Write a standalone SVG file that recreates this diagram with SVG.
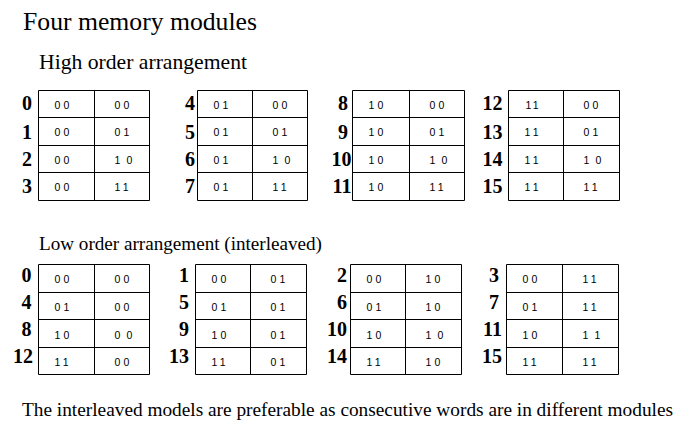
<svg xmlns="http://www.w3.org/2000/svg" width="683" height="438" viewBox="0 0 683 438">
<style>
.bg{fill:#fff}
.grid{fill:none;stroke:#000;stroke-width:1}
.lbl{font-family:"Liberation Serif","Times New Roman",serif;font-weight:bold;font-size:20px;text-anchor:end;fill:#000}
.c{font-family:"Liberation Sans",Arial,sans-serif;font-size:10.5px;letter-spacing:3.2px;fill:#000}
.sp{letter-spacing:1.6px}
.tt{letter-spacing:2.2px}
.t{font-family:"Liberation Serif","Times New Roman",serif;fill:#000}
</style>
<rect class="bg" x="0" y="0" width="683" height="438"/>
<text class="t" x="23" y="30" font-size="25.5" textLength="234" lengthAdjust="spacingAndGlyphs">Four memory modules</text>
<text class="t" x="39" y="69" font-size="21" textLength="208" lengthAdjust="spacingAndGlyphs">High order arrangement</text>
<text class="t" x="39" y="249.5" font-size="19" textLength="283" lengthAdjust="spacingAndGlyphs">Low order arrangement (interleaved)</text>
<text class="t" x="22" y="416" font-size="19" textLength="651" lengthAdjust="spacingAndGlyphs">The interleaved models are preferable as consecutive words are in different modules</text>

<g id="high-module-0">
<path class="grid" d="M38.5 90.5H149.5V200.5H38.5Z M38.5 117.5H149.5 M38.5 145.5H149.5 M38.5 172.5H149.5 M94.5 90.5V200.5"/>
<text class="lbl" x="32" y="109.5">0</text><text class="lbl" x="32" y="138.5">1</text><text class="lbl" x="32" y="165.5">2</text><text class="lbl" x="32" y="193">3</text>
<text class="c" x="54.5" y="108.5">00</text><text class="c" x="114.5" y="108.5">00</text>
<text class="c" x="54.5" y="136">00</text><text class="c" x="114.5" y="136">01</text>
<text class="c" x="54.5" y="163.5">00</text><text class="c sp" x="114.5" y="163.5">1 0</text>
<text class="c" x="54.5" y="191">00</text><text class="c" x="114.5" y="191">11</text>
</g>
<g id="high-module-1">
<path class="grid" d="M197.5 90.5H307.5V200.5H197.5Z M197.5 117.5H307.5 M197.5 145.5H307.5 M197.5 172.5H307.5 M252.5 90.5V200.5"/>
<text class="lbl" x="195" y="109.5">4</text><text class="lbl" x="195" y="138.5">5</text><text class="lbl" x="195" y="165.5">6</text><text class="lbl" x="195" y="193">7</text>
<text class="c" x="213.5" y="108.5">01</text><text class="c" x="272.5" y="108.5">00</text>
<text class="c" x="213.5" y="136">01</text><text class="c" x="272.5" y="136">01</text>
<text class="c" x="213.5" y="163.5">01</text><text class="c sp" x="272.5" y="163.5">1 0</text>
<text class="c" x="213.5" y="191">01</text><text class="c" x="272.5" y="191">11</text>
</g>
<g id="high-module-2">
<path class="grid" d="M352.5 90.5H464.5V200.5H352.5Z M352.5 117.5H464.5 M352.5 145.5H464.5 M352.5 172.5H464.5 M409.5 90.5V200.5"/>
<text class="lbl" x="348" y="109.5">8</text><text class="lbl" x="348" y="138.5">9</text><text class="lbl" x="351.5" y="165.5">10</text><text class="lbl" x="351.5" y="193">11</text>
<text class="c" x="368.5" y="108.5">10</text><text class="c" x="429.5" y="108.5">00</text>
<text class="c" x="368.5" y="136">10</text><text class="c" x="429.5" y="136">01</text>
<text class="c" x="368.5" y="163.5">10</text><text class="c sp" x="429.5" y="163.5">1 0</text>
<text class="c" x="368.5" y="191">10</text><text class="c" x="429.5" y="191">11</text>
</g>
<g id="high-module-3">
<path class="grid" d="M508.5 90.5H619.5V200.5H508.5Z M508.5 117.5H619.5 M508.5 145.5H619.5 M508.5 172.5H619.5 M563.5 90.5V200.5"/>
<text class="lbl" x="502.5" y="109.5">12</text><text class="lbl" x="502.5" y="138.5">13</text><text class="lbl" x="502.5" y="165.5">14</text><text class="lbl" x="502.5" y="193">15</text>
<text class="c tt" x="525.5" y="108.5">11</text><text class="c" x="583.5" y="108.5">00</text>
<text class="c" x="524.5" y="136">11</text><text class="c" x="583.5" y="136">01</text>
<text class="c" x="524.5" y="163.5">11</text><text class="c sp" x="583.5" y="163.5">1 0</text>
<text class="c" x="524.5" y="191">11</text><text class="c" x="583.5" y="191">11</text>
</g>

<g id="low-module-0">
<path class="grid" d="M38.5 264.5H149.5V374.5H38.5Z M38.5 292.5H149.5 M38.5 319.5H149.5 M38.5 347.5H149.5 M94.5 264.5V374.5"/>
<text class="lbl" x="31.5" y="282">0</text><text class="lbl" x="31.5" y="308.5">4</text><text class="lbl" x="31.5" y="335.5">8</text><text class="lbl" x="33" y="362.5">12</text>
<text class="c" x="54.5" y="283">00</text><text class="c" x="114.5" y="283">00</text>
<text class="c" x="54.5" y="311">01</text><text class="c" x="114.5" y="311">00</text>
<text class="c" x="54.5" y="338.5">10</text><text class="c sp" x="114.5" y="338.5">0 0</text>
<text class="c" x="54.5" y="366">11</text><text class="c" x="114.5" y="366">00</text>
</g>
<g id="low-module-1">
<path class="grid" d="M195.5 264.5H306.5V374.5H195.5Z M195.5 292.5H306.5 M195.5 319.5H306.5 M195.5 347.5H306.5 M250.5 264.5V374.5"/>
<text class="lbl" x="189" y="282">1</text><text class="lbl" x="189" y="308.5">5</text><text class="lbl" x="189" y="335.5">9</text><text class="lbl" x="189" y="362.5">13</text>
<text class="c" x="211.5" y="283">00</text><text class="c" x="270.5" y="283">01</text>
<text class="c" x="211.5" y="311">01</text><text class="c" x="270.5" y="311">01</text>
<text class="c" x="211.5" y="338.5">10</text><text class="c" x="270.5" y="338.5">01</text>
<text class="c" x="211.5" y="366">11</text><text class="c" x="270.5" y="366">01</text>
</g>
<g id="low-module-2">
<path class="grid" d="M350.5 264.5H461.5V374.5H350.5Z M350.5 292.5H461.5 M350.5 319.5H461.5 M350.5 347.5H461.5 M405.5 264.5V374.5"/>
<text class="lbl" x="347" y="282">2</text><text class="lbl" x="347" y="308.5">6</text><text class="lbl" x="347" y="335.5">10</text><text class="lbl" x="347" y="362.5">14</text>
<text class="c" x="366.5" y="283">00</text><text class="c" x="425.5" y="283">10</text>
<text class="c" x="366.5" y="311">01</text><text class="c" x="425.5" y="311">10</text>
<text class="c" x="366.5" y="338.5">10</text><text class="c sp" x="425.5" y="338.5">1 0</text>
<text class="c" x="366.5" y="366">11</text><text class="c" x="425.5" y="366">10</text>
</g>
<g id="low-module-3">
<path class="grid" d="M506.5 264.5H618.5V374.5H506.5Z M506.5 292.5H618.5 M506.5 319.5H618.5 M506.5 347.5H618.5 M562.5 264.5V374.5"/>
<text class="lbl" x="499" y="282">3</text><text class="lbl" x="499" y="308.5">7</text><text class="lbl" x="502" y="335.5">11</text><text class="lbl" x="502" y="362.5">15</text>
<text class="c" x="522.5" y="283">00</text><text class="c" x="582.5" y="283">11</text>
<text class="c" x="522.5" y="311">01</text><text class="c" x="582.5" y="311">11</text>
<text class="c" x="522.5" y="338.5">10</text><text class="c sp" x="582.5" y="338.5">1 1</text>
<text class="c" x="522.5" y="366">11</text><text class="c" x="582.5" y="366">11</text>
</g>
<g id="connectors"></g>
</svg>
